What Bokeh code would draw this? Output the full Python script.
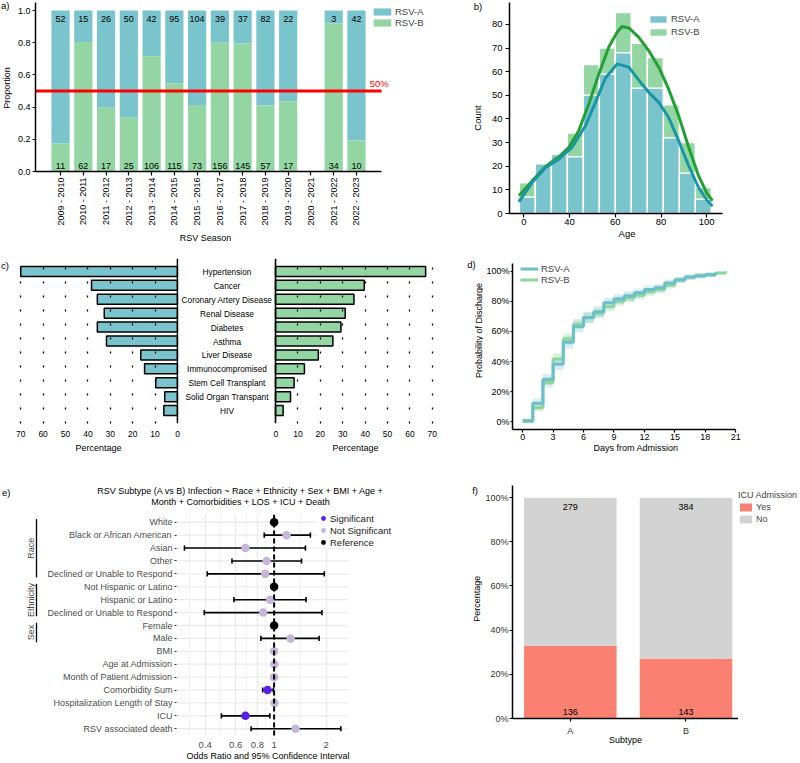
import math
from bokeh.plotting import figure
from bokeh.layouts import row, column
from bokeh.models import (Range1d, FixedTicker, Span, Legend, LegendItem, ColumnDataSource)
from bokeh.core.properties import value
from bokeh.embed import file_html
from bokeh.resources import INLINE

FONT = "Liberation Sans"
FS = "9.5px"
TEAL = "#7AC4CE"
GREEN = "#93D6A3"
GREY_TXT = "#4D4D4D"

# ---------------- data ----------------
# a) RSV season counts
seasons = ["2009 - 2010", "2010 - 2011", "2011 - 2012", "2012 - 2013", "2013 - 2014",
           "2014 - 2015", "2015 - 2016", "2016 - 2017", "2017 - 2018", "2018 - 2019",
           "2019 - 2020", "2020 - 2021", "2021 - 2022", "2022 - 2023"]
season_rsv_a = [52, 15, 26, 50, 42, 95, 104, 39, 37, 82, 22, 0, 3, 42]
season_rsv_b = [11, 62, 17, 25, 106, 115, 73, 156, 145, 57, 17, 0, 34, 10]
parity_line = 0.5

# b) age histogram + density curves
age_bin_edges = [18, 25, 32, 39, 46, 53, 60, 67, 74, 81, 88, 95, 102]
age_count_a = [7, 21, 25, 24, 50, 59, 68, 53, 53, 32, 17, 6]
age_count_b = [13, 17, 20, 34, 63, 70, 85, 72, 66, 46, 30, 11]
kde_age_a = [17.8, 23.6, 29.5, 35.3, 41.1, 46.9, 51.3, 55.7, 60.8, 65.9, 70.2, 74.6,
             79.0, 83.3, 87.7, 92.1, 96.4, 100.1, 102.5]
kde_count_a = [4.9, 13.1, 19.5, 23.0, 28.0, 37.1, 47.0, 57.3, 63.3, 61.9, 56.5, 51.3,
               47.0, 40.7, 30.8, 20.2, 11.0, 5.6, 3.2]
kde_age_b = [17.8, 23.6, 29.5, 35.3, 39.7, 44.0, 48.4, 52.8, 57.1, 60.8, 62.9, 65.9,
             70.2, 74.6, 79.0, 83.3, 87.7, 92.1, 96.4, 100.1, 102.5]
kde_count_b = [7.5, 13.8, 19.9, 24.0, 28.0, 35.0, 46.3, 59.0, 70.3, 76.7, 79.1, 78.5,
               74.6, 68.9, 61.9, 52.7, 41.4, 28.0, 16.0, 8.5, 5.4]

# c) comorbidity percentages
comorbidities = ["Hypertension", "Cancer", "Coronary Artery Disease", "Renal Disease",
                 "Diabetes", "Asthma", "Liver Disease", "Immunocompromised",
                 "Stem Cell Transplant", "Solid Organ Transpant", "HIV"]
comorb_pct_a = [70.0, 38.4, 35.8, 32.7, 35.8, 31.7, 16.4, 14.7, 9.7, 5.7, 6.1]
comorb_pct_b = [67.0, 39.6, 35.0, 31.1, 29.2, 25.6, 19.1, 12.9, 8.3, 6.7, 3.4]

# d) probability of discharge (Kaplan-Meier style)
km_days_a = list(range(20))
km_prob_a = [0.010, 0.124, 0.282, 0.382, 0.528, 0.633, 0.692, 0.731, 0.790, 0.815,
             0.834, 0.856, 0.878, 0.889, 0.921, 0.943, 0.961, 0.967, 0.976, 0.989]
km_lo_a = [0.000, 0.095, 0.245, 0.343, 0.487, 0.594, 0.655, 0.695, 0.756, 0.782,
           0.802, 0.826, 0.850, 0.862, 0.897, 0.922, 0.943, 0.950, 0.961, 0.977]
km_hi_a = [0.020, 0.155, 0.318, 0.422, 0.568, 0.671, 0.728, 0.766, 0.823, 0.846,
           0.865, 0.885, 0.905, 0.915, 0.944, 0.962, 0.977, 0.982, 0.990, 0.998]
km_days_b = list(range(21))
km_prob_b = [0.003, 0.094, 0.262, 0.417, 0.550, 0.648, 0.690, 0.720, 0.764, 0.800,
             0.823, 0.840, 0.862, 0.878, 0.906, 0.939, 0.959, 0.972, 0.976, 0.987, 0.998]
km_lo_b = [0.000, 0.072, 0.228, 0.381, 0.514, 0.614, 0.657, 0.688, 0.733, 0.771,
           0.795, 0.813, 0.837, 0.854, 0.884, 0.920, 0.942, 0.957, 0.962, 0.975, 0.990]
km_hi_b = [0.008, 0.118, 0.296, 0.453, 0.586, 0.682, 0.723, 0.752, 0.795, 0.829,
           0.851, 0.867, 0.887, 0.902, 0.928, 0.958, 0.976, 0.987, 0.990, 0.997, 1.000]

# e) odds ratios
or_labels = ["White", "Black or African American", "Asian", "Other",
             "Declined or Unable to Respond", "Not Hispanic or Latino", "Hispanic or Latino",
             "Declined or Unable to Respond", "Female", "Male", "BMI", "Age at Admission",
             "Month of Patient Admission", "Comorbidity Sum", "Hospitalization Length of Stay",
             "ICU", "RSV associated death"]
or_est = [1.0, 1.18, 0.683, 0.905, 0.888, 1.0, 0.949, 0.865, 1.0, 1.246, 1.0, 1.005,
          1.0, 0.916, 1.005, 0.683, 1.33]
or_lo = [None, 0.877, 0.3035, 0.571, 0.411, None, 0.586, 0.395, None, 0.839, None, None,
         None, 0.859, None, 0.496, 0.736]
or_hi = [None, 1.62, 1.517, 1.44, 1.95, None, 1.53, 1.89, None, 1.82, None, None,
         None, 0.991, None, 0.945, 2.43]
or_status = ["Reference", "Not Significant", "Not Significant", "Not Significant",
             "Not Significant", "Reference", "Not Significant", "Not Significant",
             "Reference", "Not Significant", "Not Significant", "Not Significant",
             "Not Significant", "Significant", "Not Significant", "Significant",
             "Not Significant"]
or_groups = [("Race", 0, 4), ("Ethnicity", 5, 7), ("Sex", 8, 9)]
or_ticks = [0.4, 0.6, 0.8, 1, 2]
or_minor = [0.3266, 0.4899, 0.6928, 0.8944, 1.4142]
or_title = ["RSV Subtype (A vs B) Infection ~ Race + Ethnicity + Sex + BMI + Age +",
            "Month + Comorbidities + LOS + ICU + Death"]

# f) ICU admission
icu_subtypes = ["A", "B"]
icu_yes = [136, 143]
icu_no = [279, 384]


# ---------------- helpers ----------------
def make_fig(w, h, xr, yr, left, right, top, bottom, **kw):
    p = figure(width=w, height=h, x_range=xr, y_range=yr, output_backend="svg",
               toolbar_location=None, **kw)
    p.min_border_left = left
    p.min_border_right = right
    p.min_border_top = top
    p.min_border_bottom = bottom
    p.frame_align = False
    p.outline_line_color = None
    p.background_fill_color = "white"
    p.border_fill_color = "white"
    p.grid.grid_line_color = None
    return p


def text_strip(w, h, items):
    s = make_fig(w, h, Range1d(0, w), Range1d(h, 0), 0, 0, 0, 0,
                 x_axis_location=None, y_axis_location=None)
    for (x, y, t, align, angle, size, color) in items:
        s.text(x=[x], y=[y], text=[t], angle=angle, text_align=align,
               text_baseline="middle", text_font=value(FONT), text_font_size=value(size),
               text_color=color)
    return s


def style_axis(ax, line=True, ticks=True, label_color="black", size=FS, lw=1.5,
               tick_out=3, standoff=2, label_standoff=3, label_size=None):
    ax.axis_line_color = "black" if line else None
    ax.axis_line_width = lw
    ax.major_tick_line_color = "black" if ticks else None
    ax.major_tick_line_width = 1.2
    ax.major_tick_out = tick_out
    ax.major_tick_in = 0
    ax.minor_tick_line_color = None
    ax.major_label_text_font = FONT
    ax.major_label_text_font_size = size
    ax.major_label_text_color = label_color
    ax.major_label_standoff = standoff
    ax.axis_label_text_font = FONT
    ax.axis_label_text_font_size = label_size or size
    ax.axis_label_text_font_style = "normal"
    ax.axis_label_text_color = "black"
    ax.axis_label_standoff = label_standoff


def make_legend(items, loc, gw, gh, lh, standoff, size=FS, **kw):
    return Legend(items=items, location=loc, orientation="vertical", padding=0, margin=0,
                  spacing=0, glyph_width=gw, glyph_height=gh, label_height=lh,
                  label_standoff=standoff, label_text_font=FONT, label_text_font_size=size,
                  border_line_color=None, **kw)


# ======================= ROW 1 (y 0-250) =======================
# ---- panel a ----
sx = list(range(len(seasons)))
tot = [a + b for a, b in zip(season_rsv_a, season_rsv_b)]
keep = [i for i in sx if tot[i] > 0]
src_a = ColumnDataSource(dict(
    x=keep,
    one=[1.0] * len(keep),
    split=[season_rsv_b[i] / tot[i] for i in keep],
    zero=[0.0] * len(keep),
    la=[str(season_rsv_a[i]) for i in keep],
    lb=[str(season_rsv_b[i]) for i in keep]))
A_X0, A_X1 = -1.1, len(seasons) + 0.1
A_PPU = 346 / (A_X1 - A_X0)
pa = make_fig(427, 228, Range1d(A_X0, A_X0 + 405 / A_PPU), Range1d(0, 1.05), 22, 0, 2, 55)
ra_A = pa.vbar(x="x", bottom="split", top="one", width=0.8, fill_color=TEAL,
               line_color=None, source=src_a)
ra_B = pa.vbar(x="x", bottom="zero", top="split", width=0.8, fill_color=GREEN,
               line_color=None, source=src_a)
pa.text(x="x", y=0.95, text="la", source=src_a, text_align="center",
        text_baseline="middle", text_font=value(FONT), text_font_size=value("9px"),
        text_color="black")
pa.text(x="x", y=0.035, text="lb", source=src_a, text_align="center",
        text_baseline="middle", text_font=value(FONT), text_font_size=value("9px"),
        text_color="black")
pa.segment(x0=[A_X0], x1=[A_X1], y0=[parity_line], y1=[parity_line], line_color="#FF0000",
           line_width=3)
pa.text(x=[13.58], y=[parity_line], y_offset=-2, text=["50%"], text_align="left",
        text_baseline="bottom", text_font=value(FONT), text_font_size=value(FS),
        text_color="#FF0000")
style_axis(pa.xaxis[0], tick_out=4, standoff=2, size="9px")
style_axis(pa.yaxis[0], tick_out=3, standoff=2, size="9px")
pa.xaxis.bounds = (A_X0, A_X1)
pa.xaxis.ticker = FixedTicker(ticks=sx)
pa.xaxis.major_label_overrides = {i: s for i, s in enumerate(seasons)}
pa.xaxis.major_label_orientation = math.pi / 2
pa.yaxis.ticker = FixedTicker(ticks=[0, 0.2, 0.4, 0.6, 0.8, 1.0])
pa.yaxis.major_label_overrides = {0: "0.0", 0.2: "0.2", 0.4: "0.4", 0.6: "0.6",
                                  0.8: "0.8", 1.0: "1.0"}
pa.add_layout(make_legend([LegendItem(label="RSV-A", renderers=[ra_A]),
                           LegendItem(label="RSV-B", renderers=[ra_B])],
                          (336, 143), 22, 9, 11, 2, background_fill_alpha=0))
strip_a = text_strip(13, 250, [(0.5, 5, "a)", "left", 0, FS, "black"),
                               (6.7, 87.5, "Proportion", "center", math.pi / 2, "9px", "black")])
strip_rsv = text_strip(427, 22, [(192, 9, "RSV Season", "center", 0, "9px", "black")])

# ---- panel b ----
B_X0, B_X1 = 13.7, 106.9
B_PPU = 213 / (B_X1 - B_X0)
pb = make_fig(316, 250, Range1d(B_X0, B_X0 + 235 / B_PPU), Range1d(0, 89.25), 25, 56, 2, 37,
              x_axis_label="Age")
rb_B = pb.quad(left=age_bin_edges[:-1], right=age_bin_edges[1:], bottom=0, top=age_count_b,
               fill_color=GREEN, line_color="white", line_width=1.5)
rb_A = pb.quad(left=age_bin_edges[:-1], right=age_bin_edges[1:], bottom=0, top=age_count_a,
               fill_color=TEAL, line_color="white", line_width=1.5)
pb.line(kde_age_b, kde_count_b, line_color="#22A033", line_width=3)
pb.line(kde_age_a, kde_count_a, line_color="#1A95A6", line_width=3)
style_axis(pb.xaxis[0], tick_out=4, standoff=1, label_standoff=0)
style_axis(pb.yaxis[0], tick_out=4, standoff=3)
pb.xaxis.bounds = (B_X0, B_X1)
pb.xaxis.ticker = FixedTicker(ticks=[20, 40, 60, 80, 100])
pb.xaxis.major_label_overrides = {20: "0"}
pb.yaxis.ticker = FixedTicker(ticks=[0, 10, 20, 30, 40, 50, 60, 70, 80])
pb.add_layout(make_legend([LegendItem(label="RSV-A", renderers=[rb_A]),
                           LegendItem(label="RSV-B", renderers=[rb_B])],
                          (138, 175), 22, 10, 13, 2, background_fill_alpha=0))
strip_b = text_strip(44, 250, [(33.3, 6, "b)", "left", 0, FS, "black"),
                               (37.3, 117.5, "Count", "center", math.pi / 2, FS, "black")])

row1 = row(strip_a, column(pa, strip_rsv), strip_b, pb)

# ======================= ROW 2 (y 250-455) =======================
yc = [len(comorbidities) - 1 - i for i in range(len(comorbidities))]
c_yr = (-0.93, 10.93)

pcl = make_fig(166, 205, Range1d(71.0, -0.45), Range1d(*c_yr), 4, 2, 8, 31,
               y_axis_location=None, x_axis_label="Percentage")
pcl.hbar(y=yc, left=0, right=comorb_pct_a, height=0.72, fill_color=TEAL,
         line_color="black", line_width=1.5)
pcr = make_fig(167, 205, Range1d(-0.9, 72.3), Range1d(*c_yr), 0, 3, 8, 31,
               y_axis_location=None, x_axis_label="Percentage")
pcr.hbar(y=yc, left=0, right=comorb_pct_b, height=0.72, fill_color=GREEN,
         line_color="black", line_width=1.5)
for p in (pcl, pcr):
    style_axis(p.xaxis[0], line=False, ticks=False, standoff=4, label_standoff=3,
               size="8.5px", label_size="9px")
    p.xaxis.ticker = FixedTicker(ticks=[0, 10, 20, 30, 40, 50, 60, 70])
    p.xgrid.ticker = FixedTicker(ticks=[10, 20, 30, 40, 50, 60, 70])
    p.xgrid.grid_line_color = "black"
    p.xgrid.grid_line_width = 1.3
    p.xgrid.grid_line_dash = "2 12"
    p.xgrid.level = "overlay"
    p.add_layout(Span(location=0, dimension="height", line_color="black", line_width=1.6))
pcm = make_fig(93, 205, Range1d(0, 1), Range1d(*c_yr), 0, 0, 8, 31,
               x_axis_location=None, y_axis_location=None)
pcm.text(x=[0.5] * len(comorbidities), y=yc, text=comorbidities, text_align="center",
         text_baseline="middle", text_font=value(FONT), text_font_size=value("8.3px"),
         text_color="black")
strip_c = text_strip(14, 205, [(0.5, 15, "c)", "left", 0, FS, "black")])

# ---- panel d ----
D_X0, D_X1 = -1, 21
D_PPU = 226 / (D_X1 - D_X0)
pd_ = make_fig(317, 205, Range1d(D_X0, D_X0 + 250 / D_PPU), Range1d(-0.05, 1.05),
               26, 41, 13, 25, x_axis_label="Days from Admission")
pd_.varea_step(x=km_days_b, y1=km_lo_b, y2=km_hi_b, step_mode="after",
               fill_color=GREEN, fill_alpha=0.35)
pd_.varea_step(x=km_days_a, y1=km_lo_a, y2=km_hi_a, step_mode="after",
               fill_color=TEAL, fill_alpha=0.3)
rd_B = pd_.step(km_days_b, km_prob_b, mode="after", line_color="#8CD69C", line_width=3)
rd_A = pd_.step(km_days_a, km_prob_a, mode="after", line_color="#6DBFCD", line_width=3)
style_axis(pd_.xaxis[0], tick_out=3, standoff=1, label_standoff=0, size="9px")
style_axis(pd_.yaxis[0], tick_out=2, standoff=1, size="9px")
pd_.xaxis.bounds = (D_X0, D_X1)
pd_.xaxis.ticker = FixedTicker(ticks=[0, 3, 6, 9, 12, 15, 18, 21])
pd_.yaxis.ticker = FixedTicker(ticks=[0, 0.2, 0.4, 0.6, 0.8, 1.0])
pd_.yaxis.major_label_overrides = {0: "0%", 0.2: "20%", 0.4: "40%", 0.6: "60%",
                                   0.8: "80%", 1.0: "100%"}
pd_.add_layout(make_legend([LegendItem(label="RSV-A", renderers=[rd_A]),
                            LegendItem(label="RSV-B", renderers=[rd_B])],
                           (8, 144), 18, 11, 11, 3, background_fill_alpha=0))
strip_d = text_strip(43, 205, [(26.7, 14.3, "d)", "left", 0, FS, "black"),
                               (38.5, 80, "Probability of Discharge", "center", math.pi / 2,
                                "9px", "black")])

row2 = row(strip_c, pcl, pcm, pcr, strip_d, pd_)

# ======================= ROW 3 (y 455-763) =======================
n_or = len(or_labels)
ye = [n_or - 1 - i for i in range(n_or)]
E_H, E_T, E_B = 242, 6, 13
E_Y0, E_Y1 = -0.6, n_or - 1 + 0.6
E_PPU = (E_H - E_T - E_B) / (E_Y1 - E_Y0)
E_XMIN, E_XMAX = 0.273, 2.69
E_LOGPX = (math.log10(E_XMAX) - math.log10(E_XMIN)) / 172
E_XEND = 10 ** (math.log10(E_XMIN) + 264 * E_LOGPX)

pbr = make_fig(42, E_H, Range1d(0, 42),
               Range1d(E_Y0 - E_B / E_PPU, E_Y1 + E_T / E_PPU), 0, 0, 0, 0,
               x_axis_location=None, y_axis_location=None)
for name, i0, i1 in or_groups:
    pbr.segment(x0=[36], x1=[36], y0=[ye[i0] + 0.25], y1=[ye[i1] - 0.25],
                line_color="black", line_width=1.3)
    pbr.text(x=[30], y=[(ye[i0] + ye[i1]) / 2], text=[name], angle=math.pi / 2,
             text_align="center", text_baseline="middle", text_font=value(FONT),
             text_font_size=value("9px"), text_color=GREY_TXT)

pe = make_fig(398, E_H, Range1d(E_XMIN, E_XEND), Range1d(E_Y0, E_Y1), 134, 0, E_T, E_B,
              x_axis_type="log")
pe.xgrid.ticker = FixedTicker(ticks=or_ticks, minor_ticks=or_minor)
pe.xgrid.grid_line_color = "#EBEBEB"
pe.xgrid.grid_line_width = 1.3
pe.xgrid.minor_grid_line_color = "#EFEFEF"
pe.xgrid.minor_grid_line_width = 0.8
pe.segment(x0=[E_XMIN] * n_or, x1=[E_XMAX] * n_or, y0=ye, y1=ye, line_color="#EBEBEB",
           line_width=1.3)
pe.add_layout(Span(location=1, dimension="height", line_color="black", line_width=2,
                   line_dash="5 3"))
ci = [i for i in range(n_or) if or_lo[i] is not None]
pe.segment(x0=[or_lo[i] for i in ci], x1=[or_hi[i] for i in ci], y0=[ye[i] for i in ci],
           y1=[ye[i] for i in ci], line_color="black", line_width=1.6)
for arr in (or_lo, or_hi):
    pe.segment(x0=[arr[i] for i in ci], x1=[arr[i] for i in ci],
               y0=[ye[i] - 0.2 for i in ci], y1=[ye[i] + 0.2 for i in ci],
               line_color="black", line_width=1.6)
status_color = {"Significant": "#5A1FE8", "Not Significant": "#C4B5D9",
                "Reference": "#000000"}
e_items = []
for st in ["Significant", "Not Significant", "Reference"]:
    ids = [i for i in range(n_or) if or_status[i] == st]
    r = pe.scatter([or_est[i] for i in ids], [ye[i] for i in ids], size=8.5,
                   fill_color=status_color[st], line_color=None)
    e_items.append(LegendItem(label=st, renderers=[r]))
style_axis(pe.xaxis[0], line=False, ticks=False, label_color=GREY_TXT, standoff=2)
style_axis(pe.yaxis[0], line=False, ticks=True, label_color=GREY_TXT, size="9px",
           tick_out=2, standoff=2)
pe.yaxis.major_tick_line_color = "#333333"
pe.xaxis.ticker = FixedTicker(ticks=or_ticks)
pe.xaxis.major_label_overrides = {0.4: "0.4", 0.6: "0.6", 0.8: "0.8", 1: "1", 2: "2"}
pe.yaxis.ticker = FixedTicker(ticks=ye)
pe.yaxis.major_label_overrides = {ye[i]: or_labels[i] for i in range(n_or)}
pe.add_layout(make_legend(e_items, (141, 188), 12, 12, 12, 1, label_text_color="#1A1A1A",
                          background_fill_color="white", background_fill_alpha=1))

strip_e_top = text_strip(440, 53, [(1.5, 36.7, "e)", "left", 0, FS, "black"),
                                   (240, 35, or_title[0], "center", 0, "9px", "black"),
                                   (240, 46, or_title[1], "center", 0, "9px", "black")])
strip_e_bot = text_strip(440, 13, [(267.5, 5, "Odds Ratio and 95% Confidence Interval",
                                    "center", 0, "9px", "black")])
block_e = column(strip_e_top, row(pbr, pe), strip_e_bot)

# ---- panel f ----
icu_tot = [a + b for a, b in zip(icu_yes, icu_no)]
fx = [1, 2]
src_f = ColumnDataSource(dict(
    x=fx,
    yes=[icu_yes[i] / icu_tot[i] for i in range(2)],
    zero=[0.0, 0.0], one=[1.0, 1.0],
    ly=[str(v) for v in icu_yes], ln=[str(v) for v in icu_no]))
F_PPU = 117.2
pf = make_fig(256, 308, Range1d(0.5, 0.5 + 229 / F_PPU), Range1d(0, 1.055), 27, 0, 30, 45,
              x_axis_label="Subtype")
rf_yes = pf.vbar(x="x", bottom="zero", top="yes", width=0.8, fill_color="#FA8072",
                 line_color=None, source=src_f)
rf_no = pf.vbar(x="x", bottom="yes", top="one", width=0.8, fill_color="#D3D3D3",
                line_color=None, source=src_f)
pf.text(x="x", y=0.958, text="ln", source=src_f, text_align="center",
        text_baseline="middle", text_font=value(FONT), text_font_size=value("9px"),
        text_color="black")
pf.text(x="x", y=0.03, text="ly", source=src_f, text_align="center",
        text_baseline="middle", text_font=value(FONT), text_font_size=value("9px"),
        text_color="black")
style_axis(pf.xaxis[0], tick_out=3, standoff=4, label_color="#333333", size="9px",
           label_standoff=-4)
style_axis(pf.yaxis[0], tick_out=3, standoff=1, label_color="#333333", size="9px")
pf.xaxis.ticker = FixedTicker(ticks=fx)
pf.xaxis.major_label_overrides = {1: icu_subtypes[0], 2: icu_subtypes[1]}
pf.yaxis.ticker = FixedTicker(ticks=[0, 0.2, 0.4, 0.6, 0.8, 1.0])
pf.yaxis.major_label_overrides = {0: "0%", 0.2: "20%", 0.4: "40%", 0.6: "60%",
                                  0.8: "80%", 1.0: "100%"}
strip_fl = text_strip(42, 308, [(31.7, 35, "f)", "left", 0, FS, "black"),
                                (36.7, 143.3, "Percentage", "center", math.pi / 2, "9px",
                                 "black")])
# legend panel for f: hidden copies of the bars only feed the legend keys
pfl = make_fig(62, 308, Range1d(5, 6), Range1d(5, 6), 0, 0, 0, 0,
               x_axis_location=None, y_axis_location=None)
kf_yes = pfl.vbar(x="x", bottom="zero", top="yes", width=0.8, fill_color="#FA8072",
                  line_color=None, source=src_f)
kf_no = pfl.vbar(x="x", bottom="yes", top="one", width=0.8, fill_color="#D3D3D3",
                 line_color=None, source=src_f)
kf_yes.visible = False
kf_no.visible = False
pfl.add_layout(make_legend([LegendItem(label="Yes", renderers=[kf_yes]),
                            LegendItem(label="No", renderers=[kf_no])],
                           (0, 238), 15, 10, 12, 3, size="9px",
                           title="ICU Admission", title_text_font=FONT,
                           title_text_font_size="9px", title_text_font_style="normal",
                           title_standoff=1, background_fill_alpha=0,
                           inactive_fill_alpha=0))

row3 = row(block_e, strip_fl, pf, pfl)

layout = column(row1, row2, row3)
open("out.html", "w").write(file_html(layout, INLINE))
